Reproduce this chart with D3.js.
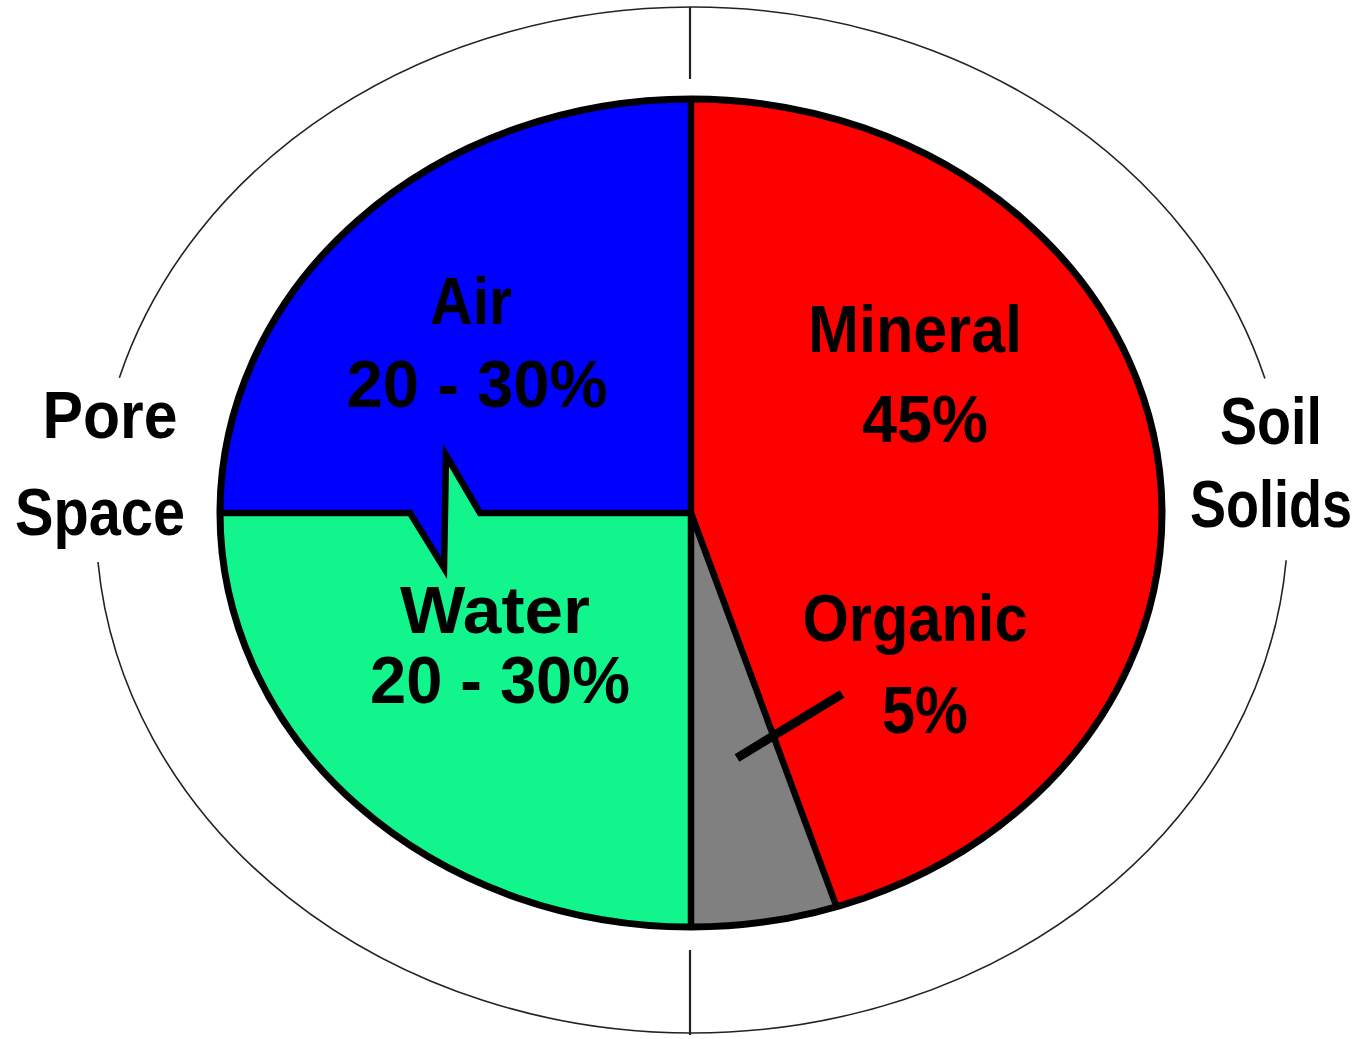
<!DOCTYPE html>
<html><head><meta charset="utf-8">
<script src="https://cdn.jsdelivr.net/npm/d3@7"></script>
<style>html,body{margin:0;padding:0;background:#fff;overflow:hidden;}</style>
</head><body>
<svg id="chart" width="1367" height="1039"></svg>
<script>
// ---- data ----
const categories = ["Mineral", "Organic", "Water", "Air"];
const values = [45, 5, 25, 25];
const valueLabels = ["45%", "5%", "20 - 30%", "20 - 30%"];
const groupLabels = [["Soil", "Solids"], ["Pore", "Space"]];

// ---- style / layout ----
const fills = ["#ff0000", "#808080", "#12f48c", "#0000ff"];
const cx = 691, cy = 513, rx = 471, ry = 414;          // pie ellipse
const ocx = 692, ocy = 520, orx = 596, ory = 513;      // outer ellipse
const deg = Math.PI / 180;

const svg = d3.select("#chart");

const data = categories.map((c, i) => ({ name: c, value: values[i], label: valueLabels[i], fill: fills[i] }));
const pie = d3.pie().sort(null).value(d => d.value);
const arcs = pie(data);
const arc = d3.arc().innerRadius(0).outerRadius(rx);

// outer thin ellipse (with gaps for side labels)
const gOuter = svg.append("g").attr("transform", `translate(${ocx},${ocy}) scale(1,${ory / orx})`);
const outerArc = d3.arc().innerRadius(orx).outerRadius(orx);
[[-73.9, 74], [94.5, 265.3]].forEach(([a0, a1]) => {
  gOuter.append("path")
    .attr("d", outerArc({ startAngle: a0 * deg, endAngle: a1 * deg }))
    .attr("fill", "none").attr("stroke", "#222").attr("stroke-width", 1.6)
    .attr("vector-effect", "non-scaling-stroke");
});
// top / bottom ticks
svg.append("line").attr("x1", cx - 1).attr("x2", cx - 1).attr("y1", ocy - ory).attr("y2", 79)
  .attr("stroke", "#222").attr("stroke-width", 2.2);
svg.append("line").attr("x1", cx - 1).attr("x2", cx - 1).attr("y1", 950).attr("y2", ocy + ory + 2)
  .attr("stroke", "#222").attr("stroke-width", 2.2);

// pie slices
const gPie = svg.append("g").attr("transform", `translate(${cx},${cy}) scale(1,${ry / rx})`);
gPie.selectAll("path.slice").data(arcs).join("path").attr("class", "slice")
  .attr("d", arc).attr("fill", d => d.data.fill);

const g = svg.append("g").attr("transform", `translate(${cx},${cy})`);
const toXY = a => [rx * Math.sin(a), -ry * Math.cos(a)];

// lightning bolt between Air and Water
const bolt = [[-281, 0], [-247, 55], [-245, -58], [-211, 0]];
const airWater = arcs[3].startAngle;
g.append("path").attr("d", d3.line()([bolt[0], bolt[1], [bolt[2][0], 0]])).attr("fill", fills[3]);
g.append("path").attr("d", d3.line()([[bolt[2][0], 0], bolt[2], bolt[3]])).attr("fill", fills[2]);

const lineStyle = sel => sel.attr("fill", "none").attr("stroke", "#000").attr("stroke-width", 6.5)
  .attr("stroke-linejoin", "miter").attr("stroke-miterlimit", 10);
arcs.forEach(d => {
  if (d.startAngle === airWater) return;
  g.append("path").attr("d", d3.line()([[0, 0], toXY(d.startAngle)])).call(lineStyle);
});
g.append("path").attr("d", d3.line()([toXY(airWater), ...bolt, [0, 0]])).call(lineStyle);

// ellipse outline
g.append("ellipse").attr("rx", rx).attr("ry", ry).call(lineStyle).attr("stroke-width", 7);

// leader line for Organic
g.append("line").attr("x1", 46).attr("y1", 245).attr("x2", 151).attr("y2", 181)
  .attr("stroke", "#000").attr("stroke-width", 9);

// labels
const labelLayout = [
  { t: categories[3], x: 471, y: 324, w: 82 },
  { t: valueLabels[3], x: 477, y: 407, w: 261 },
  { t: categories[0], x: 915, y: 352, w: 214 },
  { t: valueLabels[0], x: 925, y: 442, w: 126 },
  { t: categories[2], x: 495, y: 633, w: 190 },
  { t: valueLabels[2], x: 500, y: 703, w: 260 },
  { t: categories[1], x: 915, y: 641, w: 225 },
  { t: valueLabels[1], x: 925, y: 733, w: 86 },
  { t: groupLabels[1][0], x: 110, y: 438, w: 135 },
  { t: groupLabels[1][1], x: 100, y: 535, w: 170 },
  { t: groupLabels[0][0], x: 1271, y: 444, w: 102 },
  { t: groupLabels[0][1], x: 1271, y: 527, w: 162 }
];
svg.selectAll("text.lbl").data(labelLayout).join("text").attr("class", "lbl")
  .attr("x", d => d.x).attr("y", d => d.y)
  .attr("text-anchor", "middle")
  .attr("textLength", d => d.w).attr("lengthAdjust", "spacingAndGlyphs")
  .attr("font-family", "'Liberation Sans', Arial, sans-serif")
  .attr("font-weight", "bold").attr("font-size", 66)
  .attr("fill", "#000")
  .text(d => d.t);
</script>
</body></html>
